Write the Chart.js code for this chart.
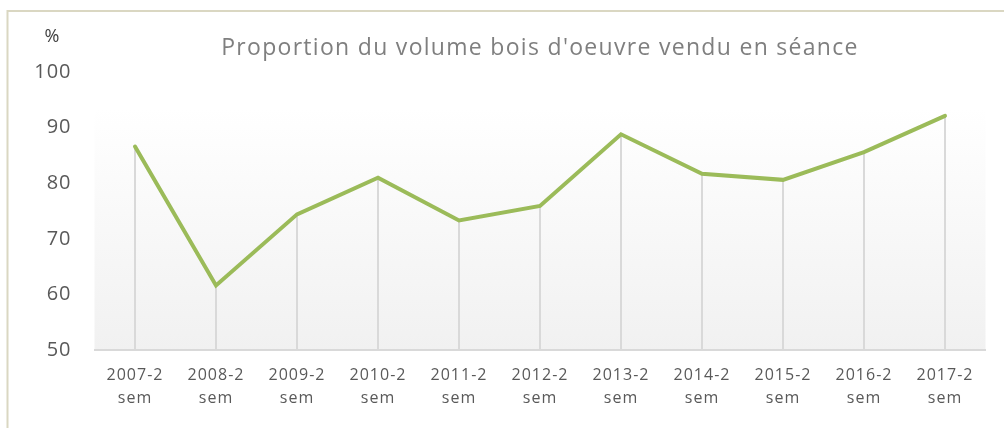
<!DOCTYPE html>
<html>
<head>
<meta charset="utf-8">
<script src="https://cdn.jsdelivr.net/npm/chart.js@4"></script>
<style>
  html, body { margin: 0; padding: 0; background: #ffffff; }
  #wrap { position: relative; width: 1005px; height: 428px; }
</style>
</head>
<body>
<div id="wrap"><canvas id="c" width="1005" height="428"></canvas></div>
<script>
const title = "Proportion du volume bois d'oeuvre vendu en séance";
const unitLabel = "%";
const categories = ["2007-2 sem", "2008-2 sem", "2009-2 sem", "2010-2 sem", "2011-2 sem", "2012-2 sem", "2013-2 sem", "2014-2 sem", "2015-2 sem", "2016-2 sem", "2017-2 sem"];
const values = [86.6, 61.6, 74.4, 81.0, 73.3, 75.9, 88.8, 81.7, 80.6, 85.6, 92.1];
const yMin = 50, yMax = 100, yStep = 10;

const labels = categories.map(c => c.split(" "));

const frame = {
  id: 'frame',
  beforeDraw(chart) {
    const ctx = chart.ctx, a = chart.chartArea;
    ctx.save();
    ctx.fillStyle = '#ffffff';
    ctx.fillRect(0, 0, chart.width, chart.height);
    // outer border
    ctx.strokeStyle = '#dad7c2';
    ctx.lineWidth = 2;
    ctx.beginPath();
    ctx.moveTo(7.5, chart.height + 2);
    ctx.lineTo(7.5, 11);
    ctx.lineTo(1004, 11);
    ctx.stroke();
    // plot background gradient
    const g = ctx.createLinearGradient(0, a.top, 0, a.bottom);
    g.addColorStop(0, '#ffffff');
    g.addColorStop(0.13, '#ffffff');
    g.addColorStop(1, '#f1f1f1');
    ctx.fillStyle = g;
    ctx.fillRect(a.left, a.top, a.right - a.left, a.bottom - a.top);
    // title + unit
    ctx.fillStyle = '#7f7f7f';
    ctx.font = '23px "Open Sans"';
    ctx.letterSpacing = '1.3px';
    ctx.textAlign = 'center';
    ctx.textBaseline = 'middle';
    ctx.fillText(title, (a.left + a.right) / 2, 48);
    ctx.letterSpacing = '0px';
    ctx.fillStyle = '#404040';
    ctx.font = '18px "Open Sans"';
    ctx.fillText(unitLabel, 52, 37);
    ctx.restore();
    ctx.letterSpacing = '1px';
  },
  beforeDatasetsDraw(chart) {
    const ctx = chart.ctx, a = chart.chartArea;
    const meta = chart.getDatasetMeta(0);
    ctx.save();
    ctx.strokeStyle = '#d9d9d9';
    ctx.lineWidth = 2;
    meta.data.forEach(p => {
      ctx.beginPath();
      ctx.moveTo(Math.round(p.x), p.y);
      ctx.lineTo(Math.round(p.x), a.bottom);
      ctx.stroke();
    });
    ctx.restore();
  },
  afterDraw(chart) {
    chart.ctx.letterSpacing = '0px';
  }
};

new Chart(document.getElementById('c'), {
  type: 'line',
  data: {
    labels: labels,
    datasets: [{
      data: values,
      borderColor: '#9bbb59',
      borderWidth: 4,
      borderCapStyle: 'round',
      borderJoinStyle: 'miter',
      tension: 0,
      pointRadius: 0,
      fill: false
    }]
  },
  options: {
    responsive: false,
    animation: false,
    layout: { padding: { top: 72, right: 19.5, left: 0, bottom: 0 } },
    plugins: { legend: { display: false }, tooltip: { enabled: false }, title: { display: false } },
    scales: {
      x: {
        offset: true,
        grid: { display: false, drawTicks: false },
        border: { display: true, color: '#d9d9d9', width: 2 },
        ticks: { color: '#595959', font: { family: 'Open Sans', size: 16, lineHeight: 1.45 }, padding: 14, maxRotation: 0, autoSkip: false },
        afterFit: s => { s.height = 78; }
      },
      y: {
        min: yMin, max: yMax,
        grid: { display: false, drawTicks: false },
        border: { display: false },
        ticks: { stepSize: yStep, color: '#595959', font: { family: 'Open Sans', size: 20 }, padding: 23 },
        afterFit: s => { s.width = 94.5; }
      }
    }
  },
  plugins: [frame]
});
</script>
</body>
</html>
